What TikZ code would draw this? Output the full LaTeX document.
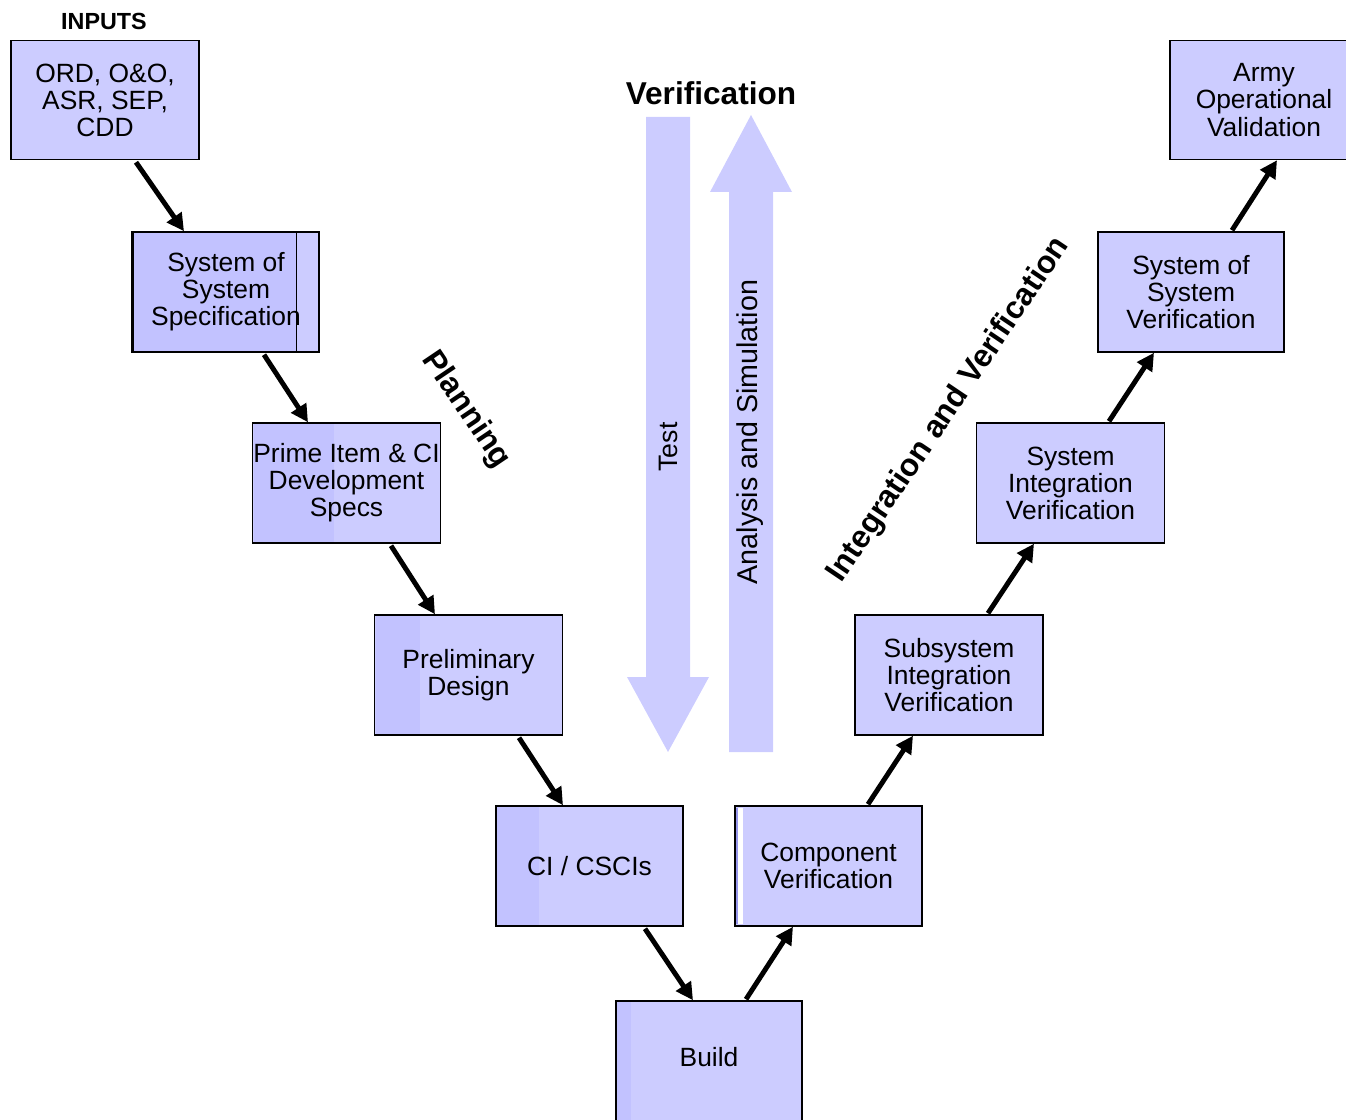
\documentclass[tikz,border=0pt]{standalone}
\usepackage{fontspec}
\setmainfont{Liberation Sans}
\usetikzlibrary{arrows.meta,calc}

\definecolor{boxblue}{RGB}{204,204,255}
\definecolor{stripblue}{RGB}{194,194,255}
\definecolor{edgeblue}{RGB}{150,150,235}

\tikzset{
  stage/.style={draw, line width=1.1pt, fill=boxblue, minimum width=141pt,
    minimum height=90pt, inner sep=0pt, align=center,
    font=\fontsize{19.8}{20.3}\selectfont},
  lstrip/.style={path picture={\fill[stripblue]
    ([shift={(1,1)}]path picture bounding box.north west) rectangle
    ([shift={(#1,-1)}]path picture bounding box.south west);}},
  flow/.style={line width=3.7pt, -{Triangle[length=13pt,width=13pt]}},
  heading/.style={font=\bfseries\fontsize{23.7}{26}\selectfont},
  sidetext/.style={font=\fontsize{20}{22}\selectfont}
}

\begin{document}
\begin{tikzpicture}[x=0.75pt,y=-0.75pt]
  \useasboundingbox (0,0) rectangle (1346,1120);

  % big verification arrows
  \fill[boxblue] (646,117) -- (690,117) -- (690,677) -- (709,677) -- (668,752)
    -- (627,677) -- (646,677) -- cycle;
  \fill[boxblue] (729,752) -- (773,752) -- (773,192) -- (792,192) -- (751,115)
    -- (710,192) -- (729,192) -- cycle;
  \node[sidetext, rotate=90] (test) at (668,447) {Test};
  \node[sidetext, rotate=90, font=\fontsize{21.5}{23}\selectfont] (analysis) at (750,432) {Analysis and Simulation};

  % headings
  \node[heading, font=\bfseries\fontsize{17.5}{20}\selectfont] (inputslabel) at (104,21) {INPUTS};
  \node[heading] (verification) at (711,93) {Verification};
  \node[heading, rotate=-56] (planning) at (466,410) {Planning};
  \node[heading, rotate=56] (integration) at (949,410) {Integration and Verification};

  % left leg
  \node[stage, minimum height=89.25pt] (inputs) at (105,100) {ORD, O\&O,\\ASR, SEP,\\CDD};
  \node[stage, minimum width=139.5pt, lstrip=164] (sosspec) at (226,292) {System of\\System\\Specification};
  \draw[line width=1.1pt] ($(sosspec.north west)+(164,0)$) -- ($(sosspec.south west)+(164,0)$);
  \draw[line width=2.2pt] (sosspec.north west) -- (sosspec.south west);
  \node[stage, lstrip=81] (prime) at (346.5,483) {Prime Item \& CI\\Development\\Specs};
  \node[stage, lstrip=45] (prelim) at (468.5,675) {Preliminary\\Design};
  \node[stage, minimum width=140.25pt, lstrip=43] (ci) at (589.5,866) {CI / CSCIs};
  \node[stage, minimum width=139.5pt, minimum height=93pt, text depth=9pt, lstrip=15] (build) at (709,1063) {Build};

  % right leg
  \node[stage, minimum width=140.25pt] (comp) at (828.5,866) {Component\\Verification};
  \fill[edgeblue] ($(comp.north west)+(2,3)$) rectangle ($(comp.south west)+(4,-3)$);
  \fill[white] ($(comp.north west)+(4,3)$) rectangle ($(comp.south west)+(9,-3)$);
  \node[stage] (subsys) at (949,675) {Subsystem\\Integration\\Verification};
  \node[stage] (sysint) at (1070.5,483) {System\\Integration\\Verification};
  \node[stage, minimum width=139.5pt] (sosver) at (1191,292) {System of\\System\\Verification};
  \node[stage, minimum height=89.25pt] (army) at (1264,100) {Army\\Operational\\Validation};

  % flow
  \draw[flow] ($(inputs.south)+(31,2)$) -- ($(sosspec.north)+(-42,0)$);
  \draw[flow] ($(sosspec.south)+(38,2)$) -- ($(prime.north)+(-38.5,0)$);
  \draw[flow] ($(prime.south)+(44.5,2)$) -- ($(prelim.north)+(-33.5,0)$);
  \draw[flow] ($(prelim.south)+(50.5,2)$) -- ($(ci.north)+(-26.5,0)$);
  \draw[flow] ($(ci.south)+(55.5,2)$) -- ($(build.north)+(-16,0)$);
  \draw[flow] ($(build.north)+(37,-1)$) -- ($(comp.south)+(-35.5,0)$);
  \draw[flow] ($(comp.north)+(39.5,-1)$) -- ($(subsys.south)+(-36,0)$);
  \draw[flow] ($(subsys.north)+(39,-1)$) -- ($(sysint.south)+(-36.5,0)$);
  \draw[flow] ($(sysint.north)+(38.5,-1)$) -- ($(sosver.south)+(-37,0)$);
  \draw[flow] ($(sosver.north)+(41,-1)$) -- ($(army.south)+(13,0)$);
\end{tikzpicture}
\end{document}
